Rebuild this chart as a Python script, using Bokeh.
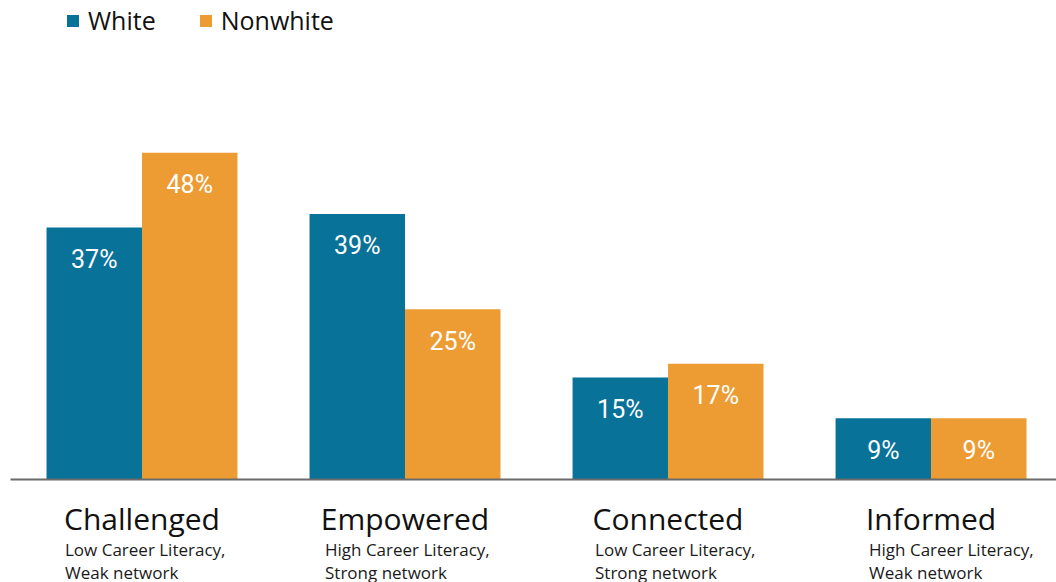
from bokeh.plotting import figure
from bokeh.models import Range1d, ColumnDataSource
from bokeh.embed import file_html
from bokeh.resources import INLINE
from bokeh.core.properties import value

# ---- data ----
categories = ["Challenged", "Empowered", "Connected", "Informed"]
subtitles_1 = ["Low Career Literacy,", "High Career Literacy,", "Low Career Literacy,", "High Career Literacy,"]
subtitles_2 = ["Weak network", "Strong network", "Strong network", "Weak network"]
white = [37, 39, 15, 9]
nonwhite = [48, 25, 17, 9]
series_names = ["White", "Nonwhite"]

# ---- styling / layout constants ----
BLUE = "#087299"
ORANGE = "#ED9C34"
BAR_W = 0.363
DODGE = 0.1815
SUB_X_OFFSETS = [-77, -80, -73, -62]

idx = list(range(len(categories)))

p = figure(width=1056, height=582,
           x_range=Range1d(-0.538, 3.477), y_range=Range1d(-15.12, 70.35),
           x_axis_type=None, y_axis_type=None,
           output_backend="svg", toolbar_location=None,
           min_border=0, outline_line_color=None)
p.background_fill_color = "white"
p.border_fill_color = "white"

src = ColumnDataSource(dict(
    x=idx,
    xw=[i - DODGE for i in idx],
    xn=[i + DODGE for i in idx],
    white=white, nonwhite=nonwhite,
    wl=[f"{v}%" for v in white], nl=[f"{v}%" for v in nonwhite],
    cat=categories, s1=subtitles_1, s2=subtitles_2,
    sx=SUB_X_OFFSETS,
))

p.vbar(x="xw", top="white", width=BAR_W, bottom=0, source=src,
       fill_color=BLUE, line_color=None, legend_label=series_names[0])
p.vbar(x="xn", top="nonwhite", width=BAR_W, bottom=0, source=src,
       fill_color=ORANGE, line_color=None, legend_label=series_names[1])

# value labels
for xcol, ycol, lcol in (("xw", "white", "wl"), ("xn", "nonwhite", "nl")):
    p.text(x=xcol, y=ycol, text=lcol, source=src, text_align="center",
           text_baseline="alphabetic", y_offset=32,
           text_font=value("Roboto"), text_font_size="25px", text_color="white")

# baseline
p.segment(x0=[-0.5], y0=[0], x1=[3.477], y1=[0], line_color="#6b6b6b", line_width=2)

# category titles and subtitles
p.text(x="x", y=0, text="cat", source=src, text_align="center",
       text_baseline="alphabetic", y_offset=39,
       text_font=value("Open Sans"), text_font_size="30px", text_color="#111111")
p.text(x="x", y=0, text="s1", source=src, text_align="left", x_offset="sx",
       text_baseline="alphabetic", y_offset=70,
       text_font=value("Open Sans"), text_font_size="17px", text_color="#1a1a1a")
p.text(x="x", y=0, text="s2", source=src, text_align="left", x_offset="sx",
       text_baseline="alphabetic", y_offset=93,
       text_font=value("Open Sans"), text_font_size="17px", text_color="#1a1a1a")

lg = p.legend[0]
lg.orientation = "horizontal"
lg.location = (65, 545)
lg.glyph_width = 15
lg.glyph_height = 15
lg.label_standoff = 8
lg.spacing = 42
lg.padding = 0
lg.margin = 0
lg.border_line_color = None
lg.background_fill_alpha = 0
lg.label_text_font = "Open Sans"
lg.label_text_font_size = "25px"
lg.label_text_color = "#111111"

open("out.html", "w").write(file_html(p, INLINE))
